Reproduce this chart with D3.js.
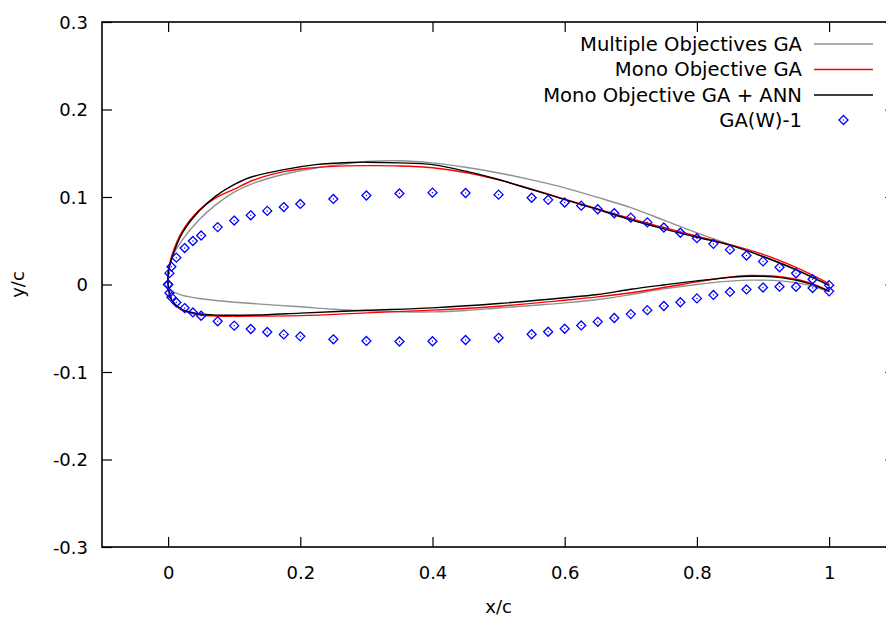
<!DOCTYPE html>
<html>
<head>
<meta charset="utf-8">
<script src="https://cdn.jsdelivr.net/npm/d3@7"></script>
<style>
  html, body { margin: 0; padding: 0; background: #fff; }
  svg { display: block; }
  text { font-family: "DejaVu Sans", sans-serif; fill: #000; }
</style>
</head>
<body>
<svg id="chart" width="886" height="617"></svg>
<script>
// ---------------- data ----------------
const xTicks = [0, 0.2, 0.4, 0.6, 0.8, 1];
const yTicks = [-0.3, -0.2, -0.1, 0, 0.1, 0.2, 0.3];
const xTickLabels = ["0", "0.2", "0.4", "0.6", "0.8", "1"];
const yTickLabels = ["-0.3", "-0.2", "-0.1", "0", "0.1", "0.2", "0.3"];

const seriesNames = ["Multiple Objectives GA", "Mono Objective GA", "Mono Objective GA + ANN", "GA(W)-1"];

// GA(W)-1 reference airfoil points
const gawX = [0, 0.002, 0.005, 0.0125, 0.025, 0.0375, 0.05, 0.075, 0.1, 0.125, 0.15, 0.175, 0.2, 0.25, 0.3, 0.35, 0.4, 0.45, 0.5, 0.55, 0.575, 0.6, 0.625, 0.65, 0.675, 0.7, 0.725, 0.75, 0.775, 0.8, 0.825, 0.85, 0.875, 0.9, 0.925, 0.95, 0.975, 1.0];
const gawUpper = [0, 0.01300, 0.02035, 0.03069, 0.04165, 0.04974, 0.05600, 0.06561, 0.07309, 0.07909, 0.08413, 0.08848, 0.09209, 0.09778, 0.10169, 0.10409, 0.10500, 0.10456, 0.10269, 0.09917, 0.09674, 0.09374, 0.09013, 0.08604, 0.08144, 0.07639, 0.07096, 0.06517, 0.05913, 0.05291, 0.04644, 0.03983, 0.03313, 0.02639, 0.01965, 0.01287, 0.00604, -0.00074];
const gawLower = [0, -0.00974, -0.01444, -0.02052, -0.02691, -0.03191, -0.03569, -0.04209, -0.04700, -0.05087, -0.05426, -0.05700, -0.05926, -0.06265, -0.06448, -0.06517, -0.06483, -0.06344, -0.06091, -0.05683, -0.05396, -0.05061, -0.04678, -0.04265, -0.03830, -0.03383, -0.02930, -0.02461, -0.02030, -0.01587, -0.01191, -0.00852, -0.00565, -0.00352, -0.00248, -0.00257, -0.00396, -0.00783];

// Multiple Objectives GA (gray)
const moUpperX = [0, 0.001, 0.0045, 0.0216, 0.047, 0.072, 0.1, 0.125, 0.175, 0.225, 0.275, 0.3, 0.35, 0.4, 0.45, 0.5, 0.55, 0.6, 0.65, 0.7, 0.75, 0.8, 0.85, 0.9, 0.95, 1.0];
const moUpperY = [-0.002, 0.012, 0.0286, 0.051, 0.074, 0.091, 0.1055, 0.1145, 0.126, 0.1335, 0.1385, 0.1405, 0.1415, 0.139, 0.134, 0.1275, 0.1195, 0.1105, 0.0995, 0.0878, 0.0735, 0.059, 0.0455, 0.032, 0.0165, -0.001];
const moLowerX = [0, 0.002, 0.0116, 0.0216, 0.05, 0.072, 0.1225, 0.2, 0.25, 0.3, 0.35, 0.4, 0.45, 0.5, 0.55, 0.6, 0.65, 0.7, 0.75, 0.8, 0.85, 0.88, 0.93, 0.97, 1.0];
const moLowerY = [-0.002, -0.0065, -0.0095, -0.0125, -0.0163, -0.0183, -0.0215, -0.0255, -0.0283, -0.0302, -0.0312, -0.0313, -0.0297, -0.0268, -0.024, -0.021, -0.0172, -0.0115, -0.005, 0.0, 0.0038, 0.005, 0.0038, -0.001, -0.0085];

// Mono Objective GA (red)
const mUpperX = [0, 0.0005, 0.006, 0.0216, 0.047, 0.072, 0.1, 0.125, 0.15, 0.175, 0.2, 0.25, 0.3, 0.35, 0.4, 0.45, 0.5, 0.55, 0.6, 0.65, 0.7, 0.75, 0.8, 0.85, 0.9, 0.95, 1.0];
const mUpperY = [0, 0.016, 0.034, 0.061, 0.085, 0.099, 0.109, 0.118, 0.1245, 0.129, 0.132, 0.135, 0.1358, 0.1355, 0.1335, 0.128, 0.1195, 0.109, 0.0975, 0.0865, 0.0752, 0.0652, 0.0552, 0.0455, 0.0345, 0.0195, 0.001];
const mLowerX = [0, 0.002, 0.0065, 0.02, 0.047, 0.072, 0.1, 0.2, 0.3, 0.4, 0.5, 0.6, 0.65, 0.7, 0.75, 0.8, 0.85, 0.88, 0.93, 0.97, 1.0];
const mLowerY = [0, -0.011, -0.02, -0.029, -0.0345, -0.036, -0.0362, -0.0356, -0.0324, -0.0293, -0.0248, -0.018, -0.0142, -0.0095, -0.0035, 0.003, 0.0085, 0.0103, 0.0085, 0.002, -0.0076];

// Mono Objective GA + ANN (black)
const annUpperX = [0, 0.0005, 0.0065, 0.0216, 0.047, 0.072, 0.097, 0.1225, 0.173, 0.2235, 0.274, 0.3, 0.35, 0.4, 0.45, 0.5, 0.55, 0.6, 0.65, 0.7, 0.75, 0.8, 0.85, 0.9, 0.95, 1.0];
const annUpperY = [0, 0.015, 0.032, 0.059, 0.084, 0.101, 0.113, 0.122, 0.131, 0.137, 0.1395, 0.1398, 0.139, 0.137, 0.1295, 0.12, 0.1086, 0.097, 0.0857, 0.074, 0.0636, 0.054, 0.045, 0.032, 0.017, -0.001];
const annLowerX = [0, 0.002, 0.0065, 0.0216, 0.047, 0.072, 0.1, 0.15, 0.2, 0.3, 0.4, 0.5, 0.6, 0.65, 0.7, 0.75, 0.8, 0.85, 0.88, 0.93, 0.97, 1.0];
const annLowerY = [0, -0.01, -0.019, -0.0286, -0.0335, -0.035, -0.0352, -0.0345, -0.0327, -0.0295, -0.0267, -0.0217, -0.0152, -0.0114, -0.0055, -0.0005, 0.0042, 0.0082, 0.0095, 0.0076, 0.001, -0.0076];

const lineColors = ["#909090", "#ff0000", "#000000"];
const pointColor = "#0000ff";

// ---------------- layout ----------------
const svg = d3.select("#chart");
const L = 102, T = 22, B = 547;
const xs = d3.scaleLinear().domain([-0.1, 1.1]).range([L, L + 1.2 * 661]);
const ys = d3.scaleLinear().domain([-0.3, 0.3]).range([B, T]);
const R = xs(1.1);

svg.append("defs").append("clipPath").attr("id", "clip")
  .append("rect").attr("x", L).attr("y", T).attr("width", R - L).attr("height", B - T);

const tickLen = 10;
const axisColor = "#000";

// axes with d3 (inner ticks)
const gx = svg.append("g").attr("transform", `translate(0,${B})`)
  .call(d3.axisBottom(xs).tickValues(xTicks).tickSize(-tickLen).tickPadding(19)
    .tickFormat((d, i) => xTickLabels[i]));
const gxTop = svg.append("g").attr("transform", `translate(0,${T})`)
  .call(d3.axisTop(xs).tickValues(xTicks).tickSize(-tickLen).tickFormat(""));
const gy = svg.append("g").attr("transform", `translate(${L},0)`)
  .call(d3.axisLeft(ys).tickValues(yTicks).tickSize(-tickLen).tickPadding(14)
    .tickFormat((d, i) => yTickLabels[i]));
const gyR = svg.append("g").attr("transform", `translate(${R},0)`)
  .call(d3.axisRight(ys).tickValues(yTicks).tickSize(-tickLen).tickFormat(""));

[gx, gxTop, gy, gyR].forEach(g => {
  g.select(".domain").remove();
  g.selectAll(".tick line").attr("stroke", axisColor).attr("stroke-width", 1.2);
  g.selectAll("text").style("font-family", "DejaVu Sans").style("font-size", "18px").attr("fill", "#000");
});
gx.selectAll(".tick text").attr("dy", "0.71em");
gy.selectAll(".tick text").attr("dy", "0.35em");

// frame
svg.append("rect").attr("x", L).attr("y", T).attr("width", R - L).attr("height", B - T)
  .attr("fill", "none").attr("stroke", axisColor).attr("stroke-width", 1.6);

// axis titles
svg.append("text").attr("x", xs(0.5)).attr("y", 607).attr("dy", "0.35em")
  .attr("text-anchor", "middle").style("font-size", "18px").text("x/c");
svg.append("text").attr("transform", `translate(18,${ys(0)}) rotate(-90)`).attr("dy", "0.35em")
  .attr("text-anchor", "middle").style("font-size", "18px").text("y/c");

// curves
function closed(ux, uy, lx, ly) {
  const up = ux.map((x, i) => [x, uy[i]]).reverse();
  const lo = lx.map((x, i) => [x, ly[i]]).slice(1);
  return up.concat(lo);
}
const curves = [
  closed(moUpperX, moUpperY, moLowerX, moLowerY),
  closed(mUpperX, mUpperY, mLowerX, mLowerY),
  closed(annUpperX, annUpperY, annLowerX, annLowerY)
];
const line = d3.line().x(d => xs(d[0])).y(d => ys(d[1])).curve(d3.curveCatmullRom.alpha(0.5));
const plot = svg.append("g").attr("clip-path", "url(#clip)");
curves.forEach((c, i) => {
  plot.append("path").attr("d", line(c)).attr("fill", "none")
    .attr("stroke", lineColors[i]).attr("stroke-width", 1.4);
});

// GA(W)-1 points
const gawPts = gawX.map((x, i) => [x, gawUpper[i]]).concat(gawX.map((x, i) => [x, gawLower[i]]));
const ds = 4.5;
const diamond = `M0,${-ds}L${ds},0L0,${ds}L${-ds},0Z`;
function marker(g, cx, cy) {
  const m = g.append("g").attr("transform", `translate(${cx},${cy})`);
  m.append("path").attr("d", diamond).attr("fill", "none").attr("stroke", pointColor).attr("stroke-width", 1.3);
  m.append("rect").attr("x", -0.6).attr("y", -0.6).attr("width", 1.2).attr("height", 1.2).attr("fill", pointColor);
}
gawPts.forEach(p => marker(plot, xs(p[0]), ys(p[1])));

// legend
const legY = [44, 69.5, 95, 120];
const legTextX = 802, legLineX0 = 814, legLineX1 = 873;
seriesNames.forEach((name, i) => {
  svg.append("text").attr("x", legTextX).attr("y", legY[i]).attr("dy", "0.35em")
    .attr("text-anchor", "end").style("font-size", "19.6px").text(name);
  if (i < 3) {
    svg.append("line").attr("x1", legLineX0).attr("x2", legLineX1).attr("y1", legY[i]).attr("y2", legY[i])
      .attr("stroke", lineColors[i]).attr("stroke-width", 1.4);
  } else {
    marker(svg, (legLineX0 + legLineX1) / 2, legY[i]);
  }
});
</script>
</body>
</html>
